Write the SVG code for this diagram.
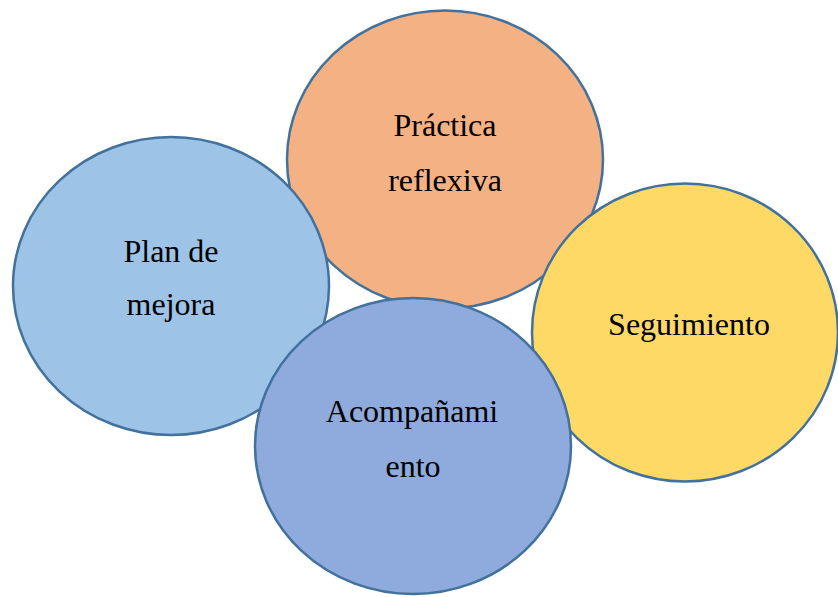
<svg xmlns="http://www.w3.org/2000/svg" width="838" height="597" viewBox="0 0 838 597">
<style>
.c{stroke:#41719C;stroke-width:2.5}
.t{font-family:"Liberation Serif","Times New Roman",serif;font-size:32px;fill:#000;text-anchor:middle}
</style>
<rect width="838" height="597" fill="#fff"/>
<g id="practica">
<ellipse class="c" cx="445" cy="159.5" rx="158" ry="149" fill="#F4B183"/>
<text class="t" x="445" y="136">Práctica</text>
<text class="t" x="445" y="191">reflexiva</text>
</g>
<g id="plan">
<ellipse class="c" cx="171" cy="286" rx="158" ry="149" fill="#9DC3E6"/>
<text class="t" x="171" y="262">Plan de</text>
<text class="t" x="171" y="315">mejora</text>
</g>
<g id="seguimiento">
<ellipse class="c" cx="685" cy="332.5" rx="153" ry="149" fill="#FFD966"/>
<text class="t" x="689" y="335">Seguimiento</text>
</g>
<g id="acompanamiento">
<ellipse class="c" cx="413" cy="446" rx="158" ry="148" fill="#8FAADC"/>
<text class="t" x="412" y="422">Acompañami</text>
<text class="t" x="413" y="477">ento</text>
</g>
<g id="connectors"/>
</svg>
